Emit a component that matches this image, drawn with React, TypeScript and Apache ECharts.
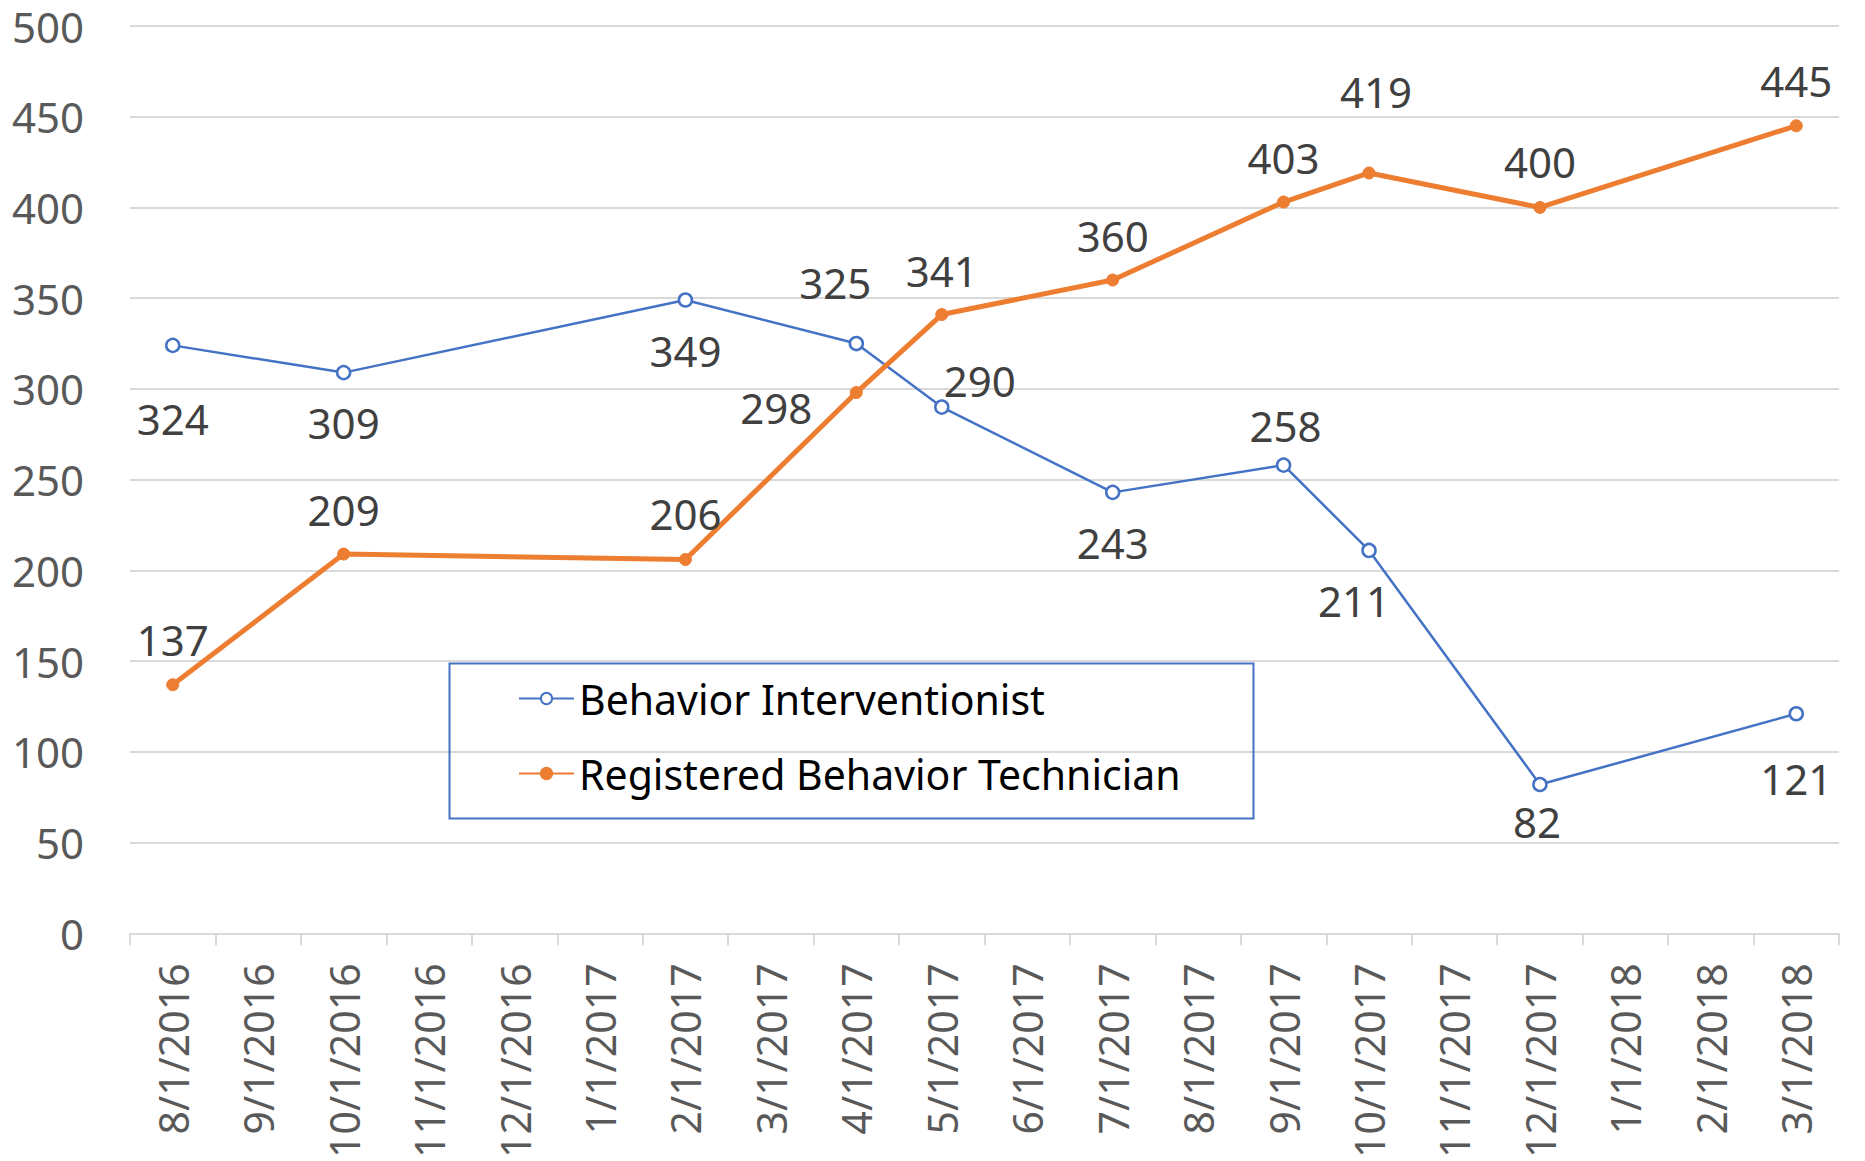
import React, { useEffect, useRef } from "react";
import * as echarts from "echarts";

const categories = [
  "8/1/2016", "9/1/2016", "10/1/2016", "11/1/2016", "12/1/2016",
  "1/1/2017", "2/1/2017", "3/1/2017", "4/1/2017", "5/1/2017",
  "6/1/2017", "7/1/2017", "8/1/2017", "9/1/2017", "10/1/2017",
  "11/1/2017", "12/1/2017", "1/1/2018", "2/1/2018", "3/1/2018",
];

const behaviorInterventionist = [
  324, null, 309, null, null, null, 349, null, 325, 290,
  null, 243, null, 258, 211, null, 82, null, null, 121,
];

const registeredBehaviorTechnician = [
  137, null, 209, null, null, null, 206, null, 298, 341,
  null, 360, null, 403, 419, null, 400, null, null, 445,
];

const yTicks = { min: 0, max: 500, interval: 50 };

// label offsets (dx, dy) from each point, in pixels
const biLabelOffsets: Record<number, [number, number]> = {
  0: [0, 73], 2: [0, 50], 6: [0, 50], 8: [-21, -61], 9: [38, -27],
  11: [0, 50], 13: [2, -40], 14: [-15, 50], 16: [-3, 37], 19: [0, 65],
};
const rbtLabelOffsets: Record<number, [number, number]> = {
  0: [0, -45], 2: [0, -45], 6: [0, -46], 8: [-80, 15], 9: [0, -44],
  11: [0, -45], 13: [0, -45], 14: [7, -81], 16: [0, -46], 19: [0, -45],
};

const FONT = "Noto Sans";

function buildData(values: (number | null)[], offsets: Record<number, [number, number]>) {
  return values.map((v, i) => {
    if (v === null) return null;
    const off = offsets[i] || [0, -45];
    return {
      value: v,
      label: { show: true, position: "inside", offset: off },
    };
  });
}

export default function App() {
  const ref = useRef<HTMLDivElement>(null);
  useEffect(() => {
    if (!ref.current) return;
    const chart = echarts.init(ref.current, undefined, { renderer: "svg" });
    const labelStyle = {
      fontFamily: FONT,
      fontSize: 42,
      color: "#404040",
    };
    chart.setOption({
      animation: false,
      backgroundColor: "#ffffff",
      grid: { left: 130, right: 26, top: 26, bottom: 224, containLabel: false },
      xAxis: {
        type: "category",
        data: categories,
        boundaryGap: true,
        axisLine: { show: true, lineStyle: { color: "#D9D9D9", width: 2 } },
        axisTick: { show: true, alignWithLabel: false, length: 12, lineStyle: { color: "#D9D9D9", width: 2 } },
        axisLabel: {
          rotate: 90,
          interval: 0,
          margin: 30,
          fontFamily: FONT,
          fontSize: 41,
          color: "#595959",
        },
        splitLine: { show: false },
      },
      yAxis: {
        type: "value",
        min: yTicks.min,
        max: yTicks.max,
        interval: yTicks.interval,
        axisLine: { show: false },
        axisTick: { show: false },
        axisLabel: {
          margin: 46,
          fontFamily: FONT,
          fontSize: 42,
          lineHeight: 40,
          color: "#595959",
        },
        splitLine: { show: true, lineStyle: { color: "#D9D9D9", width: 2 } },
      },
      legend: {
        orient: "vertical",
        left: 518,
        top: 678,
        padding: 0,
        itemGap: 34,
        itemWidth: 55,
        itemHeight: 14,
        textStyle: { fontFamily: FONT, fontSize: 41, color: "#000000", padding: [0, 0, 0, 0] },
        data: ["Behavior Interventionist", "Registered Behavior Technician"],
      },
      graphic: [
        {
          type: "rect",
          left: 447,
          top: 661,
          shape: { width: 804, height: 155 },
          style: { fill: "none", stroke: "#4472C4", lineWidth: 2 },
          z: 100,
        },
      ],
      series: [
        {
          name: "Behavior Interventionist",
          type: "line",
          connectNulls: true,
          data: buildData(behaviorInterventionist, biLabelOffsets),
          symbol: "circle",
          symbolSize: 13,
          showAllSymbol: true,
          lineStyle: { color: "#4472C4", width: 2.5 },
          itemStyle: { color: "#ffffff", borderColor: "#4472C4", borderWidth: 2.5 },
          label: labelStyle,
          z: 3,
        },
        {
          name: "Registered Behavior Technician",
          type: "line",
          connectNulls: true,
          data: buildData(registeredBehaviorTechnician, rbtLabelOffsets),
          symbol: "circle",
          symbolSize: 12,
          showAllSymbol: true,
          lineStyle: { color: "#ED7D31", width: 5 },
          itemStyle: { color: "#ED7D31", borderColor: "#ED7D31", borderWidth: 1 },
          label: labelStyle,
          z: 4,
        },
      ],
    });
    return () => chart.dispose();
  }, []);
  return (
    <div
      ref={ref}
      style={{ position: "fixed", left: 0, top: 0, width: 1865, height: 1161, background: "#fff" }}
    />
  );
}
